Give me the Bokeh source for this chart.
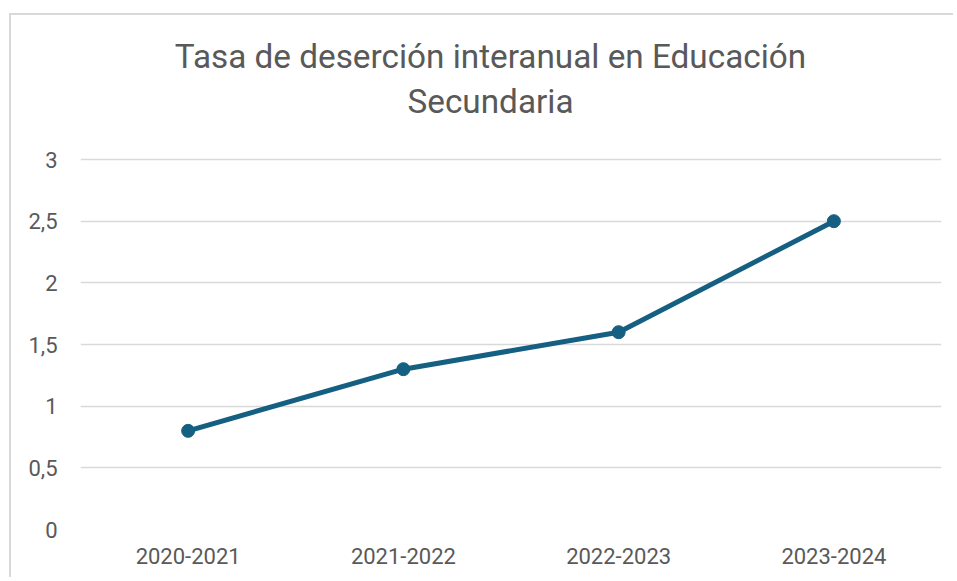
from bokeh.plotting import figure
from bokeh.models import Label, FixedTicker, FactorRange, Range1d, ColumnDataSource
from bokeh.embed import file_html
from bokeh.resources import INLINE

periods = ["2020-2021", "2021-2022", "2022-2023", "2023-2024"]
rates = [0.8, 1.3, 1.6, 2.5]
y_ticks = [0, 0.5, 1, 1.5, 2, 2.5, 3]
y_tick_labels = ["0", "0,5", "1", "1,5", "2", "2,5", "3"]
title_lines = ["Tasa de deserción interanual en Educación", "Secundaria"]

LINE_COLOR = "#156082"
TEXT_COLOR = "#595959"
GRID_COLOR = "#d9d9d9"
FONT = "Roboto"

source = ColumnDataSource(data=dict(period=periods, rate=rates))

# the frame reaches up to the top of the chart so the title area sits inside it;
# gridlines are only drawn at the fixed ticks 0..3
p = figure(
    width=944, height=564,
    x_range=FactorRange(factors=periods, range_padding=0),
    y_range=Range1d(0, 4.168),
    output_backend="svg", toolbar_location=None, title=None,
    min_border_left=69, min_border_right=14, min_border_bottom=50, min_border_top=0,
)
p.styles = {
    "margin-left": "9px", "margin-top": "13px",
    "border-left": "2px solid #d9d9d9", "border-top": "2px solid #d9d9d9",
}

# two-line chart title, placed in screen units
for txt, ty in zip(title_lines, [473, 428]):
    p.add_layout(Label(x=410, y=ty, x_units="screen", y_units="screen", text=txt,
                       text_align="center", text_baseline="alphabetic",
                       text_font=FONT, text_font_size="33.3px", text_color=TEXT_COLOR))

p.line("period", "rate", source=source, line_color=LINE_COLOR, line_width=5)
p.scatter("period", "rate", source=source, size=13, fill_color=LINE_COLOR, line_color=LINE_COLOR)

p.outline_line_color = None
p.xgrid.grid_line_color = None
p.ygrid.grid_line_color = GRID_COLOR
p.ygrid.grid_line_width = 1.5

p.yaxis.ticker = FixedTicker(ticks=y_ticks)
p.yaxis.major_label_overrides = {t: l for t, l in zip(y_ticks, y_tick_labels)}
for ax in (p.xaxis, p.yaxis):
    ax.axis_line_color = None
    ax.major_tick_line_color = None
    ax.minor_tick_line_color = None
    ax.major_tick_out = 0
    ax.major_tick_in = 0
    ax.major_label_text_font = FONT
    ax.major_label_text_font_size = "22px"
    ax.major_label_text_color = TEXT_COLOR
p.yaxis.major_label_standoff = 23
p.xaxis.major_label_standoff = 18

open("out.html", "w").write(file_html(p, INLINE))
